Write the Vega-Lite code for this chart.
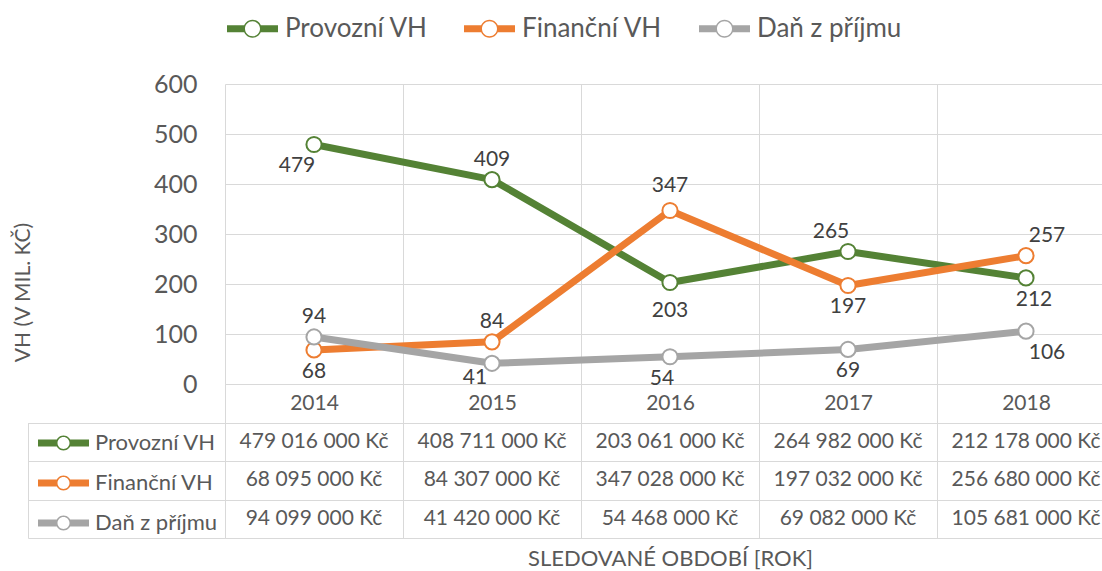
{
  "$schema": "https://vega.github.io/schema/vega-lite/v6.json",
  "autosize": {"type": "none"},
  "padding": {"left": 225, "top": 84, "right": 0, "bottom": 187},
  "width": 877,
  "height": 300,
  "background": "white",
  "datasets": {
    "vh": [
      {"year": "2014", "series": "Provozní VH", "kc": 479016000},
      {"year": "2015", "series": "Provozní VH", "kc": 408711000},
      {"year": "2016", "series": "Provozní VH", "kc": 203061000},
      {"year": "2017", "series": "Provozní VH", "kc": 264982000},
      {"year": "2018", "series": "Provozní VH", "kc": 212178000},
      {"year": "2014", "series": "Finanční VH", "kc": 68095000},
      {"year": "2015", "series": "Finanční VH", "kc": 84307000},
      {"year": "2016", "series": "Finanční VH", "kc": 347028000},
      {"year": "2017", "series": "Finanční VH", "kc": 197032000},
      {"year": "2018", "series": "Finanční VH", "kc": 256680000},
      {"year": "2014", "series": "Daň z příjmu", "kc": 94099000},
      {"year": "2015", "series": "Daň z příjmu", "kc": 41420000},
      {"year": "2016", "series": "Daň z příjmu", "kc": 54468000},
      {"year": "2017", "series": "Daň z příjmu", "kc": 69082000},
      {"year": "2018", "series": "Daň z příjmu", "kc": 105681000}
    ]
  },
  "data": {"name": "vh"},
  "layer": [
    {
      "encoding": {
        "x": {
          "field": "year", "type": "nominal",
          "scale": {"type": "band", "paddingInner": 0, "paddingOuter": 0, "range": [0, 890]},
          "axis": {
            "orient": "bottom", "title": null, "labelAngle": 0,
            "domain": true, "domainColor": "#D9D9D9", "domainWidth": 1,
            "ticks": true, "tickBand": "extent", "tickSize": 38.5, "tickColor": "#D9D9D9", "tickWidth": 1,
            "grid": true, "gridColor": "#D9D9D9", "gridWidth": 1,
            "labelFontSize": 21, "labelColor": "#595959", "labelPadding": -19.5, "labelBaseline": "middle"
          }
        },
        "y": {
          "field": "kc", "type": "quantitative",
          "scale": {"domain": [0, 600000000], "nice": false, "zero": true},
          "axis": {
            "orient": "left",
            "values": [0, 100000000, 200000000, 300000000, 400000000, 500000000, 600000000],
            "labelExpr": "format(datum.value / 1000000, 'd')",
            "domain": false, "ticks": false, "tickSize": 0, "labelPadding": 28,
            "labelFontSize": 25, "labelColor": "#595959",
            "grid": true, "gridColor": "#D9D9D9", "gridWidth": 1,
            "title": "VH (V MIL. KČ)", "titleFontSize": 21, "titleFontWeight": "normal", "titleColor": "#595959",
            "titleX": -202, "titleY": 208, "titleAngle": 270, "titleAlign": "center", "titleBaseline": "middle"
          }
        }
      },
      "layer": [
        {
          "mark": {"type": "line", "strokeWidth": 7, "strokeCap": "butt", "strokeJoin": "round"},
          "encoding": {
            "stroke": {
              "field": "series", "type": "nominal",
              "scale": {"domain": ["Provozní VH", "Finanční VH", "Daň z příjmu"], "range": ["#548235", "#ED7D31", "#A5A5A5"]},
              "legend": null
            }
          }
        },
        {
          "mark": {"type": "point", "filled": true, "fill": "white", "strokeWidth": 2, "size": 230, "opacity": 1},
          "encoding": {
            "stroke": {
              "field": "series", "type": "nominal",
              "scale": {"domain": ["Provozní VH", "Finanční VH", "Daň z příjmu"], "range": ["#548235", "#ED7D31", "#A5A5A5"]},
              "legend": null
            }
          }
        },
        {
          "mark": {
            "type": "text", "fontSize": 21, "color": "#404040", "baseline": "middle", "align": "center",
            "text": {"expr": "format(datum.kc / 1000000, '.0f')"},
            "dy": {"expr": "indexof(['P2015','P2017','F2015','F2018','D2014'], substring(datum.series, 0, 1) + datum.year) >= 0 ? -20 : ((substring(datum.series, 0, 1) + datum.year) === 'F2016' ? -24 : ((substring(datum.series, 0, 1) + datum.year) === 'P2016' ? 29 : ((substring(datum.series, 0, 1) + datum.year) === 'D2015' ? 15 : 22)))"},
            "dx": {"expr": "indexof(['P2014','D2015','P2017'], substring(datum.series, 0, 1) + datum.year) >= 0 ? -17 : (indexof(['F2018','D2018'], substring(datum.series, 0, 1) + datum.year) >= 0 ? 21 : ((substring(datum.series, 0, 1) + datum.year) === 'P2018' ? 8 : ((substring(datum.series, 0, 1) + datum.year) === 'D2016' ? -8 : 0)))"}
          }
        }
      ]
    },
    {
      "encoding": {
        "x": {
          "field": "year", "type": "nominal",
          "scale": {"type": "band", "paddingInner": 0, "paddingOuter": 0, "range": [0, 890]},
          "axis": {
            "orient": "bottom", "offset": 154, "labels": false,
            "ticks": true, "tickBand": "extent", "tickSize": -115.5, "tickColor": "#D9D9D9", "tickWidth": 1,
            "domain": true, "domainColor": "#D9D9D9", "domainWidth": 1, "grid": false,
            "title": "SLEDOVANÉ OBDOBÍ [ROK]", "titleFontSize": 22, "titleColor": "#595959", "titleFontWeight": "normal",
            "titleX": 445, "titleY": 20, "titleBaseline": "middle", "titleAlign": "center"
          }
        }
      },
      "layer": [
        {
          "mark": {"type": "text", "fontSize": 21, "color": "#595959", "baseline": "middle", "align": "center"},
          "encoding": {
            "y": {
              "field": "series", "type": "nominal",
              "sort": ["Provozní VH", "Finanční VH", "Daň z příjmu"],
              "scale": {"type": "band", "paddingInner": 0, "paddingOuter": 0, "domain": ["Provozní VH", "Finanční VH", "Daň z příjmu"], "range": [338.5, 454]},
              "axis": {"orient": "left", "labels": false, "ticks": false, "domain": false, "title": null, "grid": true, "tickBand": "extent", "gridColor": "#D9D9D9", "gridWidth": 1}
            },
            "text": {"field": "kc", "type": "quantitative", "format": "$,.0f"}
          }
        },
        {
          "mark": {"type": "point", "filled": true, "opacity": 0, "size": 10},
          "encoding": {
            "y": {
              "field": "series", "type": "nominal",
              "sort": ["Provozní VH", "Finanční VH", "Daň z příjmu"],
              "scale": {"type": "band", "paddingInner": 0, "paddingOuter": 0, "domain": ["Provozní VH", "Finanční VH", "Daň z příjmu"], "range": [338.5, 454]},
              "axis": {"orient": "left", "labels": false, "title": null, "grid": false, "offset": 197, "ticks": true, "tickBand": "extent", "tickSize": -197, "tickColor": "#D9D9D9", "tickWidth": 1, "domain": true, "domainColor": "#D9D9D9", "domainWidth": 1}
            },
            "color": {
              "field": "series", "type": "nominal",
              "sort": ["Provozní VH", "Finanční VH", "Daň z příjmu"],
              "scale": {"range": ["#548235", "#ED7D31", "#A5A5A5"]},
              "legend": {
                "orient": "none", "legendX": -187, "legendY": 333.5, "direction": "vertical", "title": null,
                "padding": 0,
                "symbolType": "M-1,-0.137H-0.26V0.137H-1Z M0.26,-0.137H1V0.137H0.26Z M0.294,0A0.294,0.294 0 1 1 -0.294,0A0.294,0.294 0 1 1 0.294,0Z M0.235,0A0.235,0.235 0 1 0 -0.235,0A0.235,0.235 0 1 0 0.235,0Z",
                "symbolSize": 2601, "symbolStrokeWidth": 0, "symbolStrokeColor": "transparent", "symbolOpacity": 1,
                "labelFontSize": 22, "labelColor": "#595959", "labelFont": "Lato", "labelOffset": 6, "labelLimit": 300,
                "rowPadding": 3
              }
            }
          }
        }
      ],
      "resolve": {"scale": {"y": "independent"}}
    },
    {
      "mark": {"type": "point", "filled": true, "opacity": 0, "size": 10},
      "encoding": {
        "fill": {
          "field": "series", "type": "nominal",
          "scale": {"domain": ["Provozní VH", "Finanční VH", "Daň z příjmu"], "range": ["#548235", "#ED7D31", "#A5A5A5"]},
          "legend": {
            "orient": "none", "legendX": 2, "legendY": -81, "direction": "horizontal", "title": null,
            "padding": 0,
            "symbolType": "M-1,-0.137H-0.325V0.137H-1Z M0.325,-0.137H1V0.137H0.325Z M0.353,0A0.353,0.353 0 1 1 -0.353,0A0.353,0.353 0 1 1 0.353,0Z M0.294,0A0.294,0.294 0 1 0 -0.294,0A0.294,0.294 0 1 0 0.294,0Z",
            "symbolSize": 2601, "symbolStrokeWidth": 0, "symbolStrokeColor": "transparent", "symbolOpacity": 1,
            "labelFontSize": 26, "labelColor": "#595959", "labelFont": "Lato", "labelOffset": 7, "labelLimit": 300,
            "columnPadding": 36
          }
        }
      }
    }
  ],
  "resolve": {
    "scale": {"color": "independent", "stroke": "independent", "fill": "independent", "x": "independent", "y": "independent"},
    "legend": {"fill": "independent", "color": "independent"}
  },
  "config": {
    "font": "Lato",
    "view": {"stroke": null},
    "locale": {"number": {"decimal": ",", "thousands": " ", "grouping": [3], "currency": ["", " Kč"]}},
    "axis": {"labelFont": "Lato", "titleFont": "Lato"},
    "legend": {"labelFont": "Lato"},
    "text": {"font": "Lato"}
  }
}
